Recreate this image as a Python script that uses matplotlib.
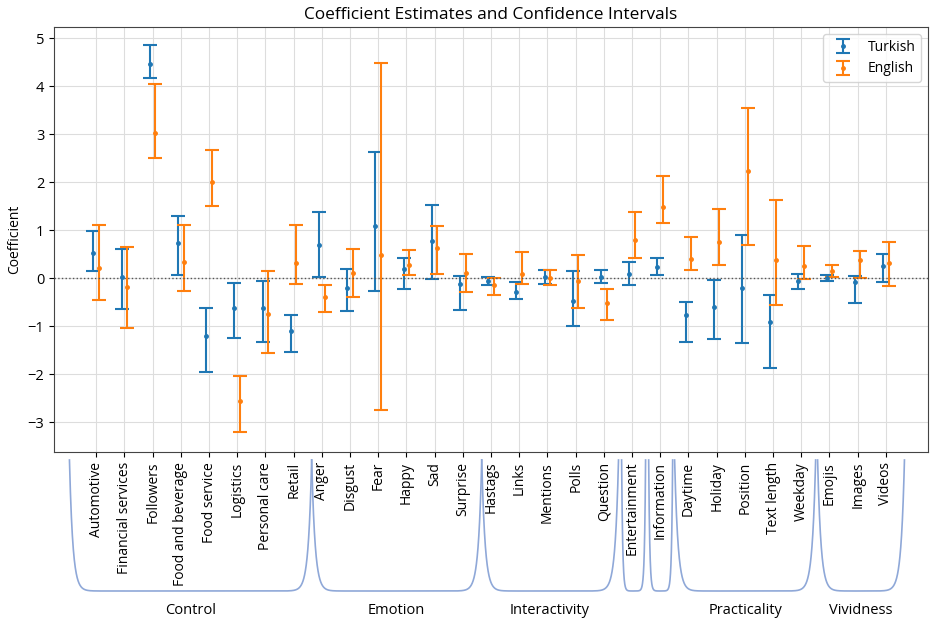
import numpy as np
import matplotlib
matplotlib.use("Agg")
from matplotlib import pyplot as plt
from matplotlib import transforms

plt.rcParams['font.family'] = ['Open Sans', 'DejaVu Sans']

# variables in plotting order
variables = [
    "Automotive", "Financial services", "Followers", "Food and beverage",
    "Food service", "Logistics", "Personal care", "Retail",
    "Anger", "Disgust", "Fear", "Happy", "Sad", "Surprise",
    "Hastags", "Links", "Mentions", "Polls", "Question",
    "Entertainment", "Information",
    "Daytime", "Holiday", "Position", "Text length", "Weekday",
    "Emojis", "Images", "Videos",
]

# Turkish model: coefficient, lower and upper bound
tr_coef = [0.52, 0.03, 4.46, 0.74, -1.21, -0.63, -0.63, -1.10,
           0.69, -0.21, 1.08, 0.19, 0.78, -0.13,
           -0.05, -0.29, 0.02, -0.47, 0.03,
           0.09, 0.24,
           -0.76, -0.59, -0.20, -0.92, -0.06,
           0.01, -0.08, 0.26]
tr_low = [0.16, -0.65, 4.17, 0.06, -1.95, -1.24, -1.33, -1.53,
          0.03, -0.68, -0.26, -0.22, -0.02, -0.66,
          -0.15, -0.44, -0.12, -0.99, -0.11,
          -0.15, 0.07,
          -1.33, -1.26, -1.34, -1.86, -0.23,
          -0.06, -0.51, -0.07]
tr_high = [0.99, 0.60, 4.85, 1.30, -0.63, -0.10, -0.05, -0.76,
           1.38, 0.19, 2.62, 0.42, 1.53, 0.05,
           0.03, -0.08, 0.17, 0.14, 0.17,
           0.33, 0.42,
           -0.50, -0.04, 0.90, -0.34, 0.08,
           0.06, 0.05, 0.51]

# English model
en_coef = [0.21, -0.19, 3.02, 0.33, 2.01, -2.55, -0.74, 0.31,
           -0.40, 0.10, 0.49, 0.28, 0.62, 0.10,
           -0.14, 0.08, 0.00, -0.06, -0.52,
           0.80, 1.49,
           0.41, 0.75, 2.23, 0.37, 0.26,
           0.14, 0.38, 0.32]
en_low = [-0.45, -1.04, 2.51, -0.26, 1.50, -3.21, -1.55, -0.13,
          -0.70, -0.40, -2.74, 0.07, 0.09, -0.29,
          -0.35, -0.12, -0.15, -0.63, -0.88,
          0.43, 1.14,
          0.17, 0.28, 0.70, -0.56, -0.02,
          0.02, 0.01, -0.16]
en_high = [1.10, 0.66, 4.04, 1.11, 2.67, -2.04, 0.15, 1.10,
           -0.14, 0.60, 4.49, 0.59, 1.08, 0.50,
           0.01, 0.54, 0.17, 0.48, -0.22,
           1.38, 2.12,
           0.85, 1.45, 3.55, 1.62, 0.67,
           0.27, 0.57, 0.75]

# variable groups drawn as brackets under the tick labels
groups = ["Control", "Emotion", "Interactivity", "", "", "Practicality", "Vividness"]
group_span = [(-0.95, 7.64), (7.64, 13.67), (13.67, 18.52), (18.63, 19.48),
              (19.59, 20.44), (20.51, 25.51), (25.58, 28.66)]

x = np.arange(len(variables))
tr_coef = np.array(tr_coef)
en_coef = np.array(en_coef)
tr_err = [tr_coef - np.array(tr_low), np.array(tr_high) - tr_coef]
en_err = [en_coef - np.array(en_low), np.array(en_high) - en_coef]

fig = plt.figure(figsize=(9.3, 6.21), dpi=100)
ax = fig.add_axes([0.058, 0.272, 0.94, 0.6845])

ax.errorbar(x - 0.1, tr_coef, yerr=tr_err, fmt='o', markersize=2.5,
            capsize=5, elinewidth=1.5, capthick=1.5, color='#1f77b4', label='Turkish')
ax.errorbar(x + 0.1, en_coef, yerr=en_err, fmt='o', markersize=2.5,
            capsize=5, elinewidth=1.5, capthick=1.5, color='#ff7f0e', label='English')
ax.axhline(0, color='#555555', linestyle=':', linewidth=1)

ax.set_xlim(-1.5, 29.5)
ax.set_ylim(-3.62, 5.23)
ax.set_xticks(x)
ax.set_xticklabels(variables, rotation=90, fontsize=10)
ax.tick_params(axis='y', labelsize=10.5)
ax.grid(True, color='#dddddd', linewidth=0.8)
ax.set_axisbelow(True)
for s in ax.spines.values():
    s.set_color('#444444')
ax.set_ylabel("Coefficient", fontsize=10)
ax.set_title("Coefficient Estimates and Confidence Intervals", fontsize=12.4)
ax.legend(loc='upper right', fontsize=10)

# brackets: x in data units, y in figure fraction
trans = transforms.blended_transform_factory(ax.transData, fig.transFigure)
bottom = 1 - 591 / 621
height = 131 / 621
for name, (a, b) in zip(groups, group_span):
    w = min(0.12, (b - a) * 0.045)
    xs = np.linspace(a, b, 1500)
    h = np.exp(-(xs - a) / w) + np.exp(-(b - xs) / w)
    ys = bottom + height * np.minimum(h, 1.0)
    fig.add_artist(plt.Line2D(xs, ys, transform=trans, color='#8fa8d8', linewidth=1.2))
    if name:
        fig.text((a + b) / 2, 1 - 611 / 621, name, transform=trans,
                 ha='center', va='center', fontsize=10.5)

fig.savefig("out.png", dpi=100)
